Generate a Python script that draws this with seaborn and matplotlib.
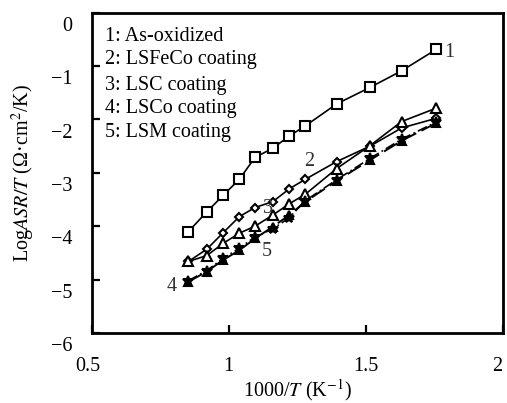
import numpy as np
import pandas as pd
import matplotlib
matplotlib.use("Agg")
import matplotlib.pyplot as plt
import matplotlib.transforms as mtransforms
import seaborn as sns

# ---- data ----
x_vals = [0.853, 0.920, 0.980, 1.039, 1.096, 1.161, 1.221, 1.280, 1.394, 1.516, 1.631, 1.757]
y_asox = [-4.10, -3.73, -3.42, -3.12, -2.71, -2.54, -2.31, -2.12, -1.71, -1.40, -1.09, -0.69]
y_lsfeco = [-4.66, -4.43, -4.12, -3.82, -3.65, -3.54, -3.30, -3.12, -2.79, -2.50, -2.16, -1.98]
y_lsc = [-4.66, -4.55, -4.32, -4.13, -4.00, -3.79, -3.58, -3.40, -2.92, -2.49, -2.04, -1.79]
y_lsco = [-5.04, -4.85, -4.63, -4.45, -4.23, -4.01, -3.79, -3.54, -3.15, -2.76, -2.40, -2.07]
y_lsm = [-5.02, -4.83, -4.60, -4.41, -4.20, -4.05, -3.84, -3.52, -3.13, -2.73, -2.37, -2.05]

legend_lines = ["1: As-oxidized", "2: LSFeCo coating", "3: LSC coating",
                "4: LSCo coating", "5: LSM coating"]
curve_ids = ["1", "2", "3", "4", "5"]
curve_label_x = [1.804, 1.294, 1.144, 0.792, 1.139]
curve_label_y = [-0.74, -2.79, -3.66, -5.13, -4.48]

x_ticks = [0.5, 1, 1.5, 2]
x_tick_labels = ["0.5", "1", "1.5", "2"]
y_ticks = [0, -1, -2, -3, -4, -5, -6]

# ---- style ----
sns.set_style("ticks")
plt.rcParams["font.family"] = ["Liberation Serif", "DejaVu Serif"]
plt.rcParams["mathtext.fontset"] = "stix"
plt.rcParams["axes.unicode_minus"] = True
plt.rcParams["axes.edgecolor"] = "black"
plt.rcParams["text.color"] = "black"
plt.rcParams["axes.labelcolor"] = "black"
plt.rcParams["xtick.color"] = "black"
plt.rcParams["ytick.color"] = "black"

fig = plt.figure(figsize=(5.07, 4.03), dpi=100)
ax = fig.add_axes([0.181, 0.1737, 0.8105, 0.795])

series = [
    (y_asox, "s", "white", "-", 7.5, 1.2),
    (y_lsfeco, "D", "white", "-", 4.5, 1.2),
    (y_lsc, "^", "white", "-", 7, 1.2),
    (y_lsco, "^", "black", (0, (8, 3)), 6, 1.4),
    (y_lsm, "*", "black", (0, (6, 2, 1, 2)), 7, 1.2),
]
for ys, mk, mfc, ls, ms, lw in series:
    df = pd.DataFrame({"x": x_vals, "y": ys})
    sns.lineplot(data=df, x="x", y="y", ax=ax, color="black", marker=mk,
                 markerfacecolor=mfc, markeredgecolor="black", markeredgewidth=1.5,
                 markersize=ms, linestyle=ls, linewidth=lw, sort=False,
                 estimator=None, legend=False)

fs = 14.5
for lbl, tx, ty in zip(curve_ids, curve_label_x, curve_label_y):
    ax.text(tx, ty, lbl, fontsize=fs, ha="center", va="center", color="#333333")

yfrac = [0.911, 0.840, 0.758, 0.687, 0.612]
for line, yf in zip(legend_lines, yfrac):
    ax.text(0.032, yf, line, transform=ax.transAxes, fontsize=fs,
            ha="left", va="baseline")

ax.set_xlim(0.5, 2)
ax.set_ylim(-6, 0)
ax.set_xticks(x_ticks)
ax.set_xticklabels(x_tick_labels)
ax.set_yticks(y_ticks)
ax.tick_params(direction="in", length=6, width=1.6, labelsize=fs, colors="black")
ax.tick_params(axis="x", pad=17)
ax.tick_params(axis="y", pad=14)
for sp in ax.spines.values():
    sp.set_linewidth(2)
    sp.set_color("black")
    sp.set_visible(True)

offset = mtransforms.ScaledTranslation(0, -8 / 72, fig.dpi_scale_trans)
for lab in ax.get_yticklabels():
    lab.set_transform(lab.get_transform() + offset)
xl = ax.get_xticklabels()
xl[-1].set_horizontalalignment("right")
xl[0].set_transform(xl[0].get_transform() + mtransforms.ScaledTranslation(-3 / 72, 0, fig.dpi_scale_trans))

ax.set_xlabel("1000/$T$ (K$^{-1}$)", fontsize=fs, labelpad=1, color="black")
ax.set_ylabel("Log$ASR/T$ (Ω·cm$^2$/K)", fontsize=fs, labelpad=10, color="black")

fig.savefig("out.png", dpi=100)
